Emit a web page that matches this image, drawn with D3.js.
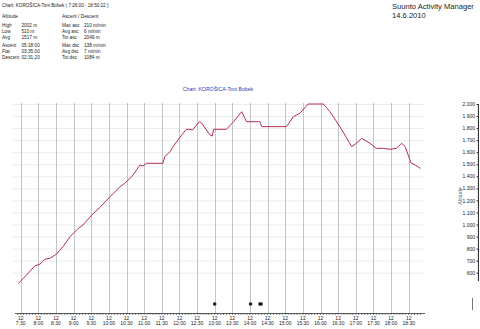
<!DOCTYPE html>
<html lang="en">
<head>
<meta charset="UTF-8">
<script src="https://cdn.jsdelivr.net/npm/d3@7"></script>
<title>Altitude</title>
<style>
  body { margin: 0; background: #fff; }
  svg text { font-family: "Liberation Sans", Arial, sans-serif; }
  .grid-v line { stroke: #c4c4cc; }
  .grid-h line { stroke: #ececf0; }
</style>
</head>
<body>
<svg id="canvas" width="480" height="329"></svg>
<script>
// altitude track, time as "HH:MM", altitude in m
var times = ["7:26","7:40","7:54","8:03","8:11","8:20","8:31","8:42","8:54","9:08","9:16","9:31","9:45",
             "10:02","10:19","10:27","10:39","10:53","10:58","11:04","11:32","11:35","11:44","11:49","12:04",
             "12:12","12:18","12:22","12:34","12:38","12:52","12:56","12:58","13:20","13:32","13:46","13:54",
             "14:17","14:20","15:02","15:14","15:25","15:39","16:05","16:16","16:33","16:53","17:01","17:10",
             "17:24","17:35","17:47","17:58","18:09","18:18","18:24","18:34","18:41","18:50"];
var altitude = [510,581,656,672,711,720,755,816,899,968,996,1079,1143,
                1231,1314,1342,1397,1494,1485,1508,1508,1563,1604,1646,1743,
                1790,1790,1784,1853,1840,1743,1734,1790,1790,1853,1936,1853,
                1853,1812,1812,1895,1923,2000,2000,1936,1812,1646,1674,1715,
                1674,1632,1632,1624,1632,1674,1646,1510,1494,1466];
var markerTimes = ["13:00","14:01","14:17","14:19"];
var yTicks = [600,700,800,900,1000,1100,1200,1300,1400,1500,1600,1700,1800,1900,2000];
var xTickLabels = ["7:30","8:00","8:30","9:00","9:30","10:00","10:30","11:00","11:30","12:00","12:30",
                   "13:00","13:30","14:00","14:30","15:00","15:30","16:00","16:30","17:00","17:30","18:00","18:30"];

var statsLeft = [["High","2002 m"],["Low","510 m"],["Avg","1517 m"]];
var statsLeft2 = [["Ascent","05:18:00"],["Flat","03:35:00"],["Descent","02:31:20"]];
var statsRight = [["Max asc","210 m/min"],["Avg asc","6 m/min"],["Tot asc","2049 m"]];
var statsRight2 = [["Max dsc","138 m/min"],["Avg dsc","7 m/min"],["Tot dsc","1084 m"]];

var svg = d3.select("svg#canvas");
var parse = function(s) {
    var p = s.split(":");
    return new Date(2010, 5, 14, +p[0], +p[1]);
};

var x = d3.scaleTime().domain([parse("7:30"), parse("18:30")]).range([20.7, 408.7]);
var y = d3.scaleLinear().domain([600, 2000]).range([272.7, 104]);
var fmt = d3.formatLocale({decimal: ",", thousands: ".", grouping: [3], currency: ["", ""]}).format(",.0f");

// header
var head = svg.append("g").attr("fill", "#222").style("font-size", "4.6px");
head.append("text").attr("x", 2).attr("y", 7).text("Chart: KOROŠICA-Toni Bobek     ( 7:26:00 - 18:50:22 )");
head.append("text").attr("x", 2).attr("y", 17.5).style("font-size", "4.8px").text("Altitude");
head.append("text").attr("x", 62).attr("y", 17.5).style("font-size", "4.8px").text("Ascent / Descent");

function block(rows, x0, x1, y0) {
    rows.forEach(function(r, i) {
        head.append("text").attr("x", x0).attr("y", y0 + i * 6).style("font-size", "4.7px").text(r[0]);
        head.append("text").attr("x", x1).attr("y", y0 + i * 6).style("font-size", "4.7px").text(r[1]);
    });
}
block(statsLeft, 2, 21.5, 26.7);
block(statsLeft2, 2, 21.5, 46.7);
block(statsRight, 62, 84, 26.7);
block(statsRight2, 62, 84, 46.7);

svg.append("text").attr("x", 392).attr("y", 8.5).attr("fill", "#222").style("font-size", "7.6px")
   .text("Suunto Activity Manager");
svg.append("text").attr("x", 392).attr("y", 17.8).attr("fill", "#222").style("font-size", "7.6px")
   .text("14.6.2010");

svg.append("text").attr("x", 218).attr("y", 91).attr("text-anchor", "middle")
   .attr("fill", "#2244bb").style("font-size", "5.2px").text("Chart: KOROŠICA-Toni Bobek");

// grids
var xTicks = xTickLabels.map(parse);
svg.append("g").attr("class", "grid-h").selectAll("line").data(yTicks).join("line")
   .attr("x1", 13).attr("x2", 423).attr("y1", function(d) { return y(d) + 0.5; }).attr("y2", function(d) { return y(d) + 0.5; });
svg.append("g").attr("class", "grid-v").selectAll("line").data(xTicks).join("line")
   .attr("x1", function(d) { return Math.round(x(d)) + 0.5; }).attr("x2", function(d) { return Math.round(x(d)) + 0.5; })
   .attr("y1", 103).attr("y2", 313);

// x axis
var xa = svg.append("g").attr("transform", "translate(0,313.5)");
xa.append("line").attr("x1", 15).attr("x2", 425).attr("stroke", "#333").attr("stroke-width", 0.8);
var minor = d3.timeMinute.every(5).range(parse("7:25"), parse("18:55"));
xa.selectAll("line.mn").data(minor).join("line").attr("class", "mn")
  .attr("x1", function(d) { return x(d); }).attr("x2", function(d) { return x(d); })
  .attr("y1", 0).attr("y2", 1.5).attr("stroke", "#333").attr("stroke-width", 0.6);
var xl = xa.selectAll("g.lb").data(xTicks).join("g").attr("class", "lb")
  .attr("transform", function(d) { return "translate(" + x(d) + ",0)"; })
  .attr("fill", "#222").style("font-size", "5px").attr("text-anchor", "middle");
xl.append("text").attr("y", 6).text("12");
xl.append("text").attr("y", 11.5).text(function(d, i) { return xTickLabels[i]; });

// y axis
var ya = svg.append("g").attr("transform", "translate(478.5,0)")
  .call(d3.axisLeft(y).tickValues(yTicks).tickSize(2).tickPadding(1.5).tickFormat(fmt));
ya.select(".domain").attr("d", "M0," + y(2000) + "V" + y(530)).attr("stroke", "#333");
ya.selectAll(".tick line").attr("stroke", "#333");
ya.selectAll(".tick text").style("font-size", "5px").attr("fill", "#222")
  .style("font-family", "'Liberation Sans', Arial, sans-serif");
ya.selectAll("line.mn").data(d3.range(540, 2000, 20)).join("line").attr("class", "mn")
  .attr("x1", 0).attr("x2", -1).attr("y1", function(d) { return y(d); }).attr("y2", function(d) { return y(d); })
  .attr("stroke", "#333").attr("stroke-width", 0.5);
svg.append("line").attr("x1", 472.5).attr("x2", 472.5).attr("y1", 298).attr("y2", 310)
   .attr("stroke", "#555").attr("stroke-width", 0.8);
svg.append("text").attr("transform", "translate(462,196) rotate(-90)").attr("text-anchor", "middle")
   .attr("fill", "#4a5a80").style("font-size", "5.2px").text("Altitude");

// profile line
var pts = times.map(function(t, i) { return [parse(t), altitude[i]]; });
var line = d3.line().x(function(d) { return x(d[0]); }).y(function(d) { return y(d[1]); });
svg.append("path").attr("d", line(pts)).attr("fill", "none")
   .attr("stroke", "#b3304f").attr("stroke-width", 1);

// markers
svg.selectAll("circle.mk").data(markerTimes.map(parse)).join("circle").attr("class", "mk")
   .attr("cx", function(d) { return x(d); }).attr("cy", 304).attr("r", 1.8).attr("fill", "#2a1a1a");
</script>
</body>
</html>
